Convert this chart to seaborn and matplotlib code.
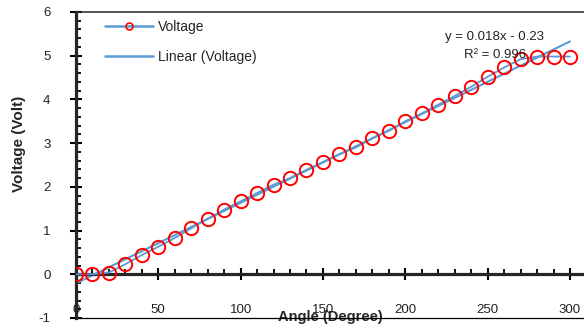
import numpy as np
import pandas as pd
import matplotlib
matplotlib.use('Agg')
import matplotlib.pyplot as plt
import seaborn as sns
from matplotlib.ticker import MultipleLocator

# ── Data ──────────────────────────────────────────────────────────────────────
angle = [0, 10, 20, 30, 40, 50, 60, 70, 80, 90, 100, 110, 120, 130, 140, 150,
         160, 170, 180, 190, 200, 210, 220, 230, 240, 250, 260, 270, 280, 290, 300]
voltage = [0.00, 0.00, 0.04, 0.23, 0.44, 0.63, 0.83, 1.05, 1.27, 1.48, 1.67,
           1.86, 2.05, 2.20, 2.39, 2.57, 2.75, 2.90, 3.11, 3.28, 3.50, 3.68,
           3.88, 4.08, 4.29, 4.52, 4.73, 4.92, 4.98, 4.98, 4.98]
fit_text = ['y = 0.018x - 0.23', 'R\u00b2 = 0.996']

df = pd.DataFrame({'Angle': angle, 'Voltage': voltage})

# ── Style ─────────────────────────────────────────────────────────────────────
sns.set_theme(style='white')
plt.rcParams['font.family'] = ['Liberation Sans', 'DejaVu Sans']
plt.rcParams['axes.unicode_minus'] = False
blue = '#5B9BD5'

fig = plt.figure(figsize=(5.84, 3.28), dpi=100)
ax = fig.add_axes([0.130, 0.0305, 0.870, 0.933])

# ── Plot ──────────────────────────────────────────────────────────────────────
sns.lineplot(data=df, x='Angle', y='Voltage', ax=ax, color=blue, lw=1.3,
             marker='o', ms=9.6, mfc='none', mec='red', mew=1.4,
             label='Voltage', zorder=3)
sns.regplot(data=df, x='Angle', y='Voltage', ax=ax, scatter=False, ci=None,
            truncate=True, color=blue, line_kws={'lw': 1.5},
            label='Linear (Voltage)')

ax.set_xlim(0, 308.5)
ax.set_ylim(-1, 6)
ax.xaxis.set_major_locator(MultipleLocator(50))
ax.xaxis.set_minor_locator(MultipleLocator(10))
ax.yaxis.set_major_locator(MultipleLocator(1))
ax.yaxis.set_minor_locator(MultipleLocator(0.2))

ax.spines['bottom'].set_position(('data', 0))
ax.spines['bottom'].set_linewidth(2.3)
ax.spines['left'].set_linewidth(2.3)
ax.spines['top'].set_linewidth(1.1)
ax.spines['right'].set_visible(False)
ax.axhline(-1, color='black', lw=0.9, clip_on=False)

ax.tick_params(which='major', direction='inout', length=8.6, width=1.5,
               color='black', labelsize=9.5, labelcolor='#222222')
ax.tick_params(which='minor', direction='in', length=3.6, width=1.3,
               color='black')
ax.tick_params(axis='x', which='both', bottom=True)
ax.tick_params(axis='y', which='both', left=True)
ax.tick_params(axis='x', which='major', pad=17)
ax.tick_params(axis='y', which='major', pad=14)

ax.set_xlabel('Angle (Degree)', fontsize=10.5, fontweight='bold')
ax.set_ylabel('Voltage (Volt)', fontsize=11, fontweight='bold')
ax.xaxis.set_label_coords(0.5, 0.003)
ax.xaxis.label.set_va('center')
ax.yaxis.set_label_coords(-0.113, 0.57)
ax.yaxis.label.set_va('center')

for i, txt in enumerate(fit_text):
    ax.text(0.824, 0.918 - i * 0.059, txt, transform=ax.transAxes,
            ha='center', va='center', fontsize=9.5, color='#222222')

leg = ax.legend(loc='upper left', bbox_to_anchor=(0.057, 0.975), frameon=False,
                fontsize=10, handlelength=3.45, handletextpad=0.4,
                labelspacing=1.15, borderpad=0, borderaxespad=0, numpoints=1)
leg.legend_handles[0].set_markersize(5)
leg.legend_handles[0].set_markeredgewidth(1.2)
for h in leg.legend_handles:
    h.set_linewidth(1.8)

plt.savefig('out.png', dpi=100)
plt.close()
